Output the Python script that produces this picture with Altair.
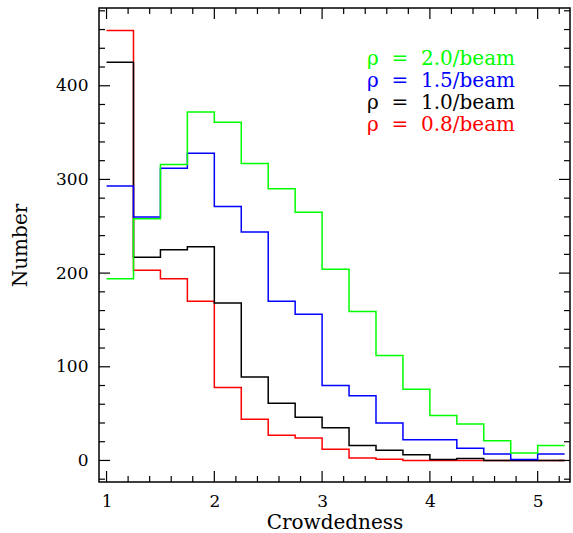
import altair as alt
import pandas as pd

# bin left edges (width 0.25)
bin_left = [1.0, 1.25, 1.5, 1.75, 2.0, 2.25, 2.5, 2.75, 3.0, 3.25, 3.5, 3.75, 4.0, 4.25, 4.5, 4.75, 5.0]
bin_width = 0.25

series_names = ["ρ = 2.0/beam", "ρ = 1.5/beam", "ρ = 1.0/beam", "ρ = 0.8/beam"]
series_colors = ["#00ff00", "#0000ff", "#000000", "#ff0000"]

counts_20 = [194, 258, 316, 372, 361, 317, 290, 265, 204, 159, 112, 76, 48, 39, 21, 8, 16]
counts_15 = [293, 260, 312, 328, 271, 244, 170, 156, 80, 69, 40, 22, 22, 13, 7, 1, 7]
counts_10 = [425, 217, 225, 228, 168, 89, 61, 46, 35, 16, 11, 6, 1, 2, 0, 0, 0]
counts_08 = [459, 203, 194, 170, 78, 44, 27, 24, 12, 2.5, 1.4, 0, 0, 0, 0, 0, 0]

x_major = [1, 2, 3, 4, 5]
x_minor = [1.2, 1.4, 1.6, 1.8, 2.2, 2.4, 2.6, 2.8, 3.2, 3.4, 3.6, 3.8,
           4.2, 4.4, 4.6, 4.8, 5.2]
y_major = [0, 100, 200, 300, 400]
y_minor = [-20, 20, 40, 60, 80, 120, 140, 160, 180, 220, 240, 260, 280,
           320, 340, 360, 380, 420, 440, 460, 480]

W, H = 471, 474
FONT = "DejaVu Serif"

x_scale = alt.Scale(domain=[0.93, 5.3], nice=False, zero=False)
y_scale = alt.Scale(domain=[-23, 483], nice=False, zero=False)

all_counts = [counts_20, counts_15, counts_10, counts_08]
rows = []
for name, counts in zip(series_names, all_counts):
    for x, c in zip(bin_left, counts):
        rows.append({"series": name, "x": x, "n": c})
    rows.append({"series": name, "x": bin_left[-1] + bin_width, "n": counts[-1]})
df = pd.DataFrame(rows)

order = ["ρ = 0.8/beam", "ρ = 1.0/beam", "ρ = 1.5/beam", "ρ = 2.0/beam"]
color_map = dict(zip(series_names, series_colors))

layers = []

# axes (labels + titles only)
axis_layer = alt.Chart(df).mark_line(opacity=0).encode(
    x=alt.X("x:Q", scale=x_scale,
            axis=alt.Axis(values=x_major, ticks=False, tickSize=0, domain=False, grid=False,
                          labelFont=FONT, labelFontSize=17, labelColor="black",
                          labelPadding=11, format="d",
                          title="Crowdedness", titleFont=FONT, titleFontSize=20,
                          titleFontWeight="normal", titleColor="black", titlePadding=3)),
    y=alt.Y("n:Q", scale=y_scale,
            axis=alt.Axis(values=y_major, ticks=False, tickSize=0, domain=False, grid=False,
                          labelFont=FONT, labelFontSize=17, labelColor="black",
                          labelPadding=11, format="d",
                          title="Number", titleFont=FONT, titleFontSize=20,
                          titleFontWeight="normal", titleColor="black", titlePadding=25)),
)
layers.append(axis_layer)

for name in order:
    sub = df[df["series"] == name]
    layers.append(
        alt.Chart(sub).mark_line(interpolate="step-after", color=color_map[name],
                                 strokeWidth=1.5).encode(
            x=alt.X("x:Q", scale=x_scale),
            y=alt.Y("n:Q", scale=y_scale),
        )
    )

# inward ticks on all four sides
def xticks(vals, length):
    d = pd.DataFrame({"t": vals})
    bottom = alt.Chart(d).mark_rule(color="black", strokeWidth=1.2).encode(
        x=alt.X("t:Q", scale=x_scale), y=alt.value(H), y2=alt.value(H - length))
    top = alt.Chart(d).mark_rule(color="black", strokeWidth=1.2).encode(
        x=alt.X("t:Q", scale=x_scale), y=alt.value(0), y2=alt.value(length))
    return [bottom, top]

def yticks(vals, length):
    d = pd.DataFrame({"t": vals})
    left = alt.Chart(d).mark_rule(color="black", strokeWidth=1.2).encode(
        y=alt.Y("t:Q", scale=y_scale), x=alt.value(0), x2=alt.value(length))
    right = alt.Chart(d).mark_rule(color="black", strokeWidth=1.2).encode(
        y=alt.Y("t:Q", scale=y_scale), x=alt.value(W), x2=alt.value(W - length))
    return [left, right]

layers += xticks(x_major, 11) + xticks(x_minor, 6)
layers += yticks(y_major, 11) + yticks(y_minor, 6)

# legend text
for i, (name, col) in enumerate(zip(series_names, series_colors)):
    label = name.replace(" ", "\u00a0\u00a0")
    d = pd.DataFrame({"label": [label]})
    layers.append(
        alt.Chart(d).mark_text(align="left", baseline="alphabetic", font=FONT,
                               fontSize=20, color=col).encode(
            x=alt.value(268), y=alt.value(57 + 22 * i), text="label:N")
    )

chart = alt.layer(*layers).properties(
    width=W, height=H,
    autosize=alt.AutoSizeParams(type="none"),
    padding={"left": 99, "top": 8, "right": 3, "bottom": 51},
    background="white",
).configure_view(stroke="black", strokeWidth=1.5)

chart.save("out.html", embed_options={"renderer": "svg", "actions": False})
